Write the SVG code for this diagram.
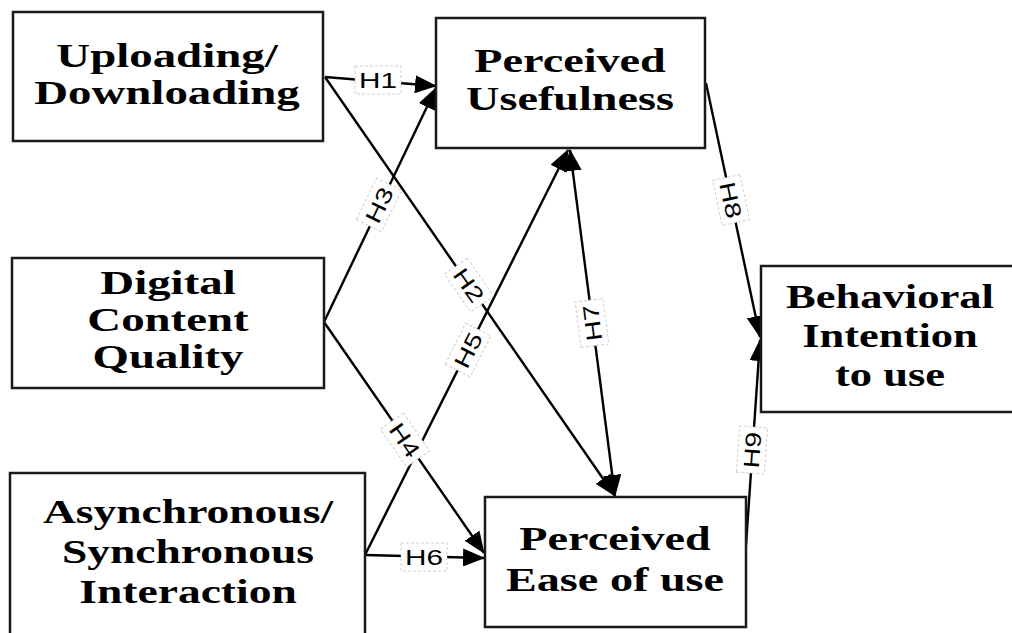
<svg xmlns="http://www.w3.org/2000/svg" width="1012" height="633" viewBox="0 0 1012 633">
<defs>
<style>
.box{fill:#fff;stroke:#1a1a1a;stroke-width:2.5}
.nt{font-family:"Liberation Serif","Times New Roman",serif;font-weight:bold;font-size:33px;fill:#000;text-anchor:middle}
.ln{stroke:#000;stroke-width:2.4;fill:none}
.lb rect{fill:#fff;stroke:#d0d0d0;stroke-width:1;stroke-dasharray:3 2}
.lb text{font-family:"Liberation Sans",Arial,sans-serif;font-size:22px;fill:#000;text-anchor:middle}
</style>
<marker id="ah" markerUnits="userSpaceOnUse" markerWidth="22" markerHeight="18" refX="21" refY="9" orient="auto">
<path d="M0,0 L22,9 L0,18 Z" fill="#000"/>
</marker>
<marker id="as" markerUnits="userSpaceOnUse" markerWidth="22" markerHeight="18" refX="1" refY="9" orient="auto">
<path d="M22,0 L0,9 L22,18 Z" fill="#000"/>
</marker>
</defs>
<rect width="1012" height="633" fill="#fff"/>

<g id="connectors">
<line class="ln" x1="325" y1="77" x2="436" y2="86" marker-end="url(#ah)"/>
<line class="ln" x1="325" y1="77" x2="615" y2="496" marker-end="url(#ah)"/>
<line class="ln" x1="324" y1="322" x2="436" y2="88" marker-end="url(#ah)"/>
<line class="ln" x1="324" y1="322" x2="484" y2="553" marker-end="url(#ah)"/>
<line class="ln" x1="365" y1="555" x2="568" y2="150" marker-end="url(#ah)"/>
<line class="ln" x1="365" y1="555" x2="484" y2="558" marker-end="url(#ah)"/>
<line class="ln" x1="615" y1="496" x2="570" y2="150" marker-start="url(#as)" marker-end="url(#ah)"/>
<line class="ln" x1="706" y1="83" x2="760" y2="337" marker-end="url(#ah)"/>
<line class="ln" x1="745" y1="560" x2="760" y2="340" marker-end="url(#ah)"/>

<g class="lb" transform="translate(378,80)"><rect x="-23" y="-14" width="46" height="28"/><text transform="scale(1.35,1)" y="8">H1</text></g>
<g class="lb" transform="translate(469,285) rotate(55)"><rect x="-23" y="-14" width="46" height="28"/><text transform="scale(1.3,1)" y="8">H2</text></g>
<g class="lb" transform="translate(379,205) rotate(-64)"><rect x="-23" y="-14" width="46" height="28"/><text transform="scale(1.3,1)" y="8">H3</text></g>
<g class="lb" transform="translate(405,440) rotate(55.5)"><rect x="-23" y="-14" width="46" height="28"/><text transform="scale(1.3,1)" y="8">H4</text></g>
<g class="lb" transform="translate(468,350) rotate(-63.4)"><rect x="-23" y="-14" width="46" height="28"/><text transform="scale(1.3,1)" y="8">H5</text></g>
<g class="lb" transform="translate(424,557)"><rect x="-23" y="-14" width="46" height="28"/><text transform="scale(1.35,1)" y="8">H6</text></g>
<g class="lb" transform="translate(592,323) rotate(-97.4)"><rect x="-23" y="-14" width="46" height="28"/><text transform="scale(1.3,1)" y="8">H7</text></g>
<g class="lb" transform="translate(731,200) rotate(78)"><rect x="-23" y="-14" width="46" height="28"/><text transform="scale(1.3,1)" y="8">H8</text></g>
<g class="lb" transform="translate(752,450) rotate(-86)"><rect x="-23" y="-14" width="46" height="28"/><text transform="scale(1.3,1)" y="8">H9</text></g>
</g>

<g id="uploading">
<rect class="box" x="13" y="12" width="310" height="129"/>
<text class="nt" transform="translate(167,0) scale(1.42,1)"><tspan x="0" y="67">Uploading/</tspan><tspan x="0" y="104">Downloading</tspan></text>
</g>

<g id="content-quality">
<rect class="box" x="12" y="258" width="312" height="130"/>
<text class="nt" transform="translate(168,0) scale(1.42,1)"><tspan x="0" y="294">Digital</tspan><tspan x="0" y="331">Content</tspan><tspan x="0" y="368">Quality</tspan></text>
</g>

<g id="interaction">
<rect class="box" x="10" y="473" width="355" height="175"/>
<text class="nt" transform="translate(188,0) scale(1.38,1)"><tspan x="0" y="523">Asynchronous/</tspan><tspan x="0" y="563">Synchronous</tspan><tspan x="0" y="603">Interaction</tspan></text>
</g>

<g id="usefulness">
<rect class="box" x="436" y="18" width="269" height="130"/>
<text class="nt" transform="translate(570,0) scale(1.4,1)"><tspan x="0" y="72">Perceived</tspan><tspan x="0" y="110">Usefulness</tspan></text>
</g>

<g id="ease-of-use">
<rect class="box" x="485" y="497" width="261" height="130"/>
<text class="nt" transform="translate(615,0) scale(1.4,1)"><tspan x="0" y="550">Perceived</tspan><tspan x="0" y="591">Ease of use</tspan></text>
</g>

<g id="intention">
<rect class="box" x="761" y="266" width="260" height="146"/>
<text class="nt" transform="translate(890,0) scale(1.35,1)"><tspan x="0" y="308">Behavioral</tspan><tspan x="0" y="347">Intention</tspan><tspan x="0" y="386">to use</tspan></text>
</g>
</svg>
